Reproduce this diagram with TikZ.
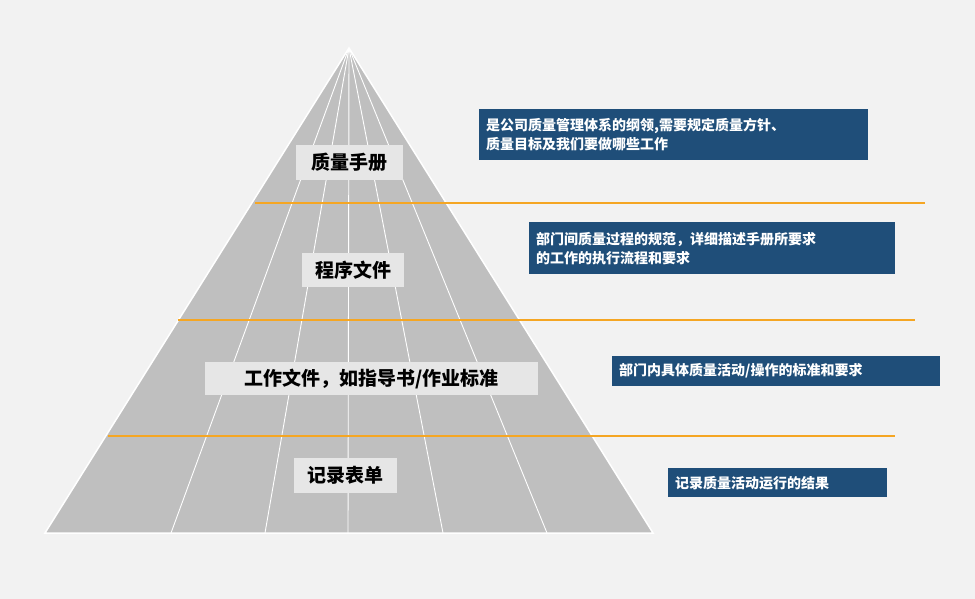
\documentclass[tikz,border=0pt]{standalone}
\usepackage{fontspec}
\newfontfamily\cjk{Noto Sans CJK SC}
\definecolor{bg}{HTML}{F2F2F2}
\definecolor{pyr}{HTML}{BFBFBF}
\definecolor{lab}{HTML}{E6E6E6}
\definecolor{blu}{HTML}{1F4E79}
\definecolor{org}{HTML}{F5A623}
\tikzset{
 lvl/.style={fill=lab,font=\cjk\bfseries\fontsize{19}{22}\selectfont,inner sep=0pt,anchor=center},
 desc/.style={fill=blu,text=white,font=\cjk\bfseries\fontsize{14}{19}\selectfont,align=left,inner sep=0pt,anchor=north west},
 sep/.style={draw=org,line width=1.2pt},
 ray/.style={draw=white,line width=0.9pt}
}
\begin{document}
\begin{tikzpicture}[x=1pt,y=-1pt]
\fill[bg] (0,0) rectangle (975,599);
\useasboundingbox (0,0) rectangle (975,599);
\coordinate (apex) at (349,48);
\coordinate (bl) at (45,533);
\coordinate (br) at (653,533);
\fill[pyr,draw=white,line width=1.5pt] (apex) -- (bl) -- (br) -- cycle;
\foreach \x in {171,265,348,443,547}{\draw[ray] (apex) -- (\x,533);}
\coordinate (o1a) at (255,203); \coordinate (o1b) at (925,203);
\coordinate (o2a) at (178,320); \coordinate (o2b) at (915,320);
\coordinate (o3a) at (108,436); \coordinate (o3b) at (895,436);
\draw[sep] (o1a) -- (o1b);
\draw[sep] (o2a) -- (o2b);
\draw[sep] (o3a) -- (o3b);
\node[lvl,minimum width=107pt,minimum height=35pt] (l1) at (349.5,162.5) {质量手册};
\node[lvl,minimum width=102pt,minimum height=34pt] (l2) at (353,270) {程序文件};
\node[lvl,minimum width=333pt,minimum height=33pt] (l3) at (371.5,378.5) {工作文件，如指导书/作业标准};
\node[lvl,minimum width=103pt,minimum height=35pt] (l4) at (345.5,475.5) {记录表单};
\node[desc,minimum width=388pt,minimum height=51pt,text width=375pt,inner xsep=7pt] (d1) at (479,109) {是公司质量管理体系的纲领,需要规定质量方针、\\质量目标及我们要做哪些工作};
\node[desc,minimum width=365pt,minimum height=52pt,text width=352pt,inner xsep=7pt] (d2) at (529,222) {部门间质量过程的规范，详细描述手册所要求\\的工作的执行流程和要求};
\node[desc,minimum width=327pt,minimum height=30pt,text width=314pt,inner xsep=7pt] (d3) at (612,356) {部门内具体质量活动/操作的标准和要求};
\node[desc,minimum width=218pt,minimum height=29pt,text width=205pt,inner xsep=7pt] (d4) at (668,468) {记录质量活动运行的结果};
\end{tikzpicture}
\end{document}
